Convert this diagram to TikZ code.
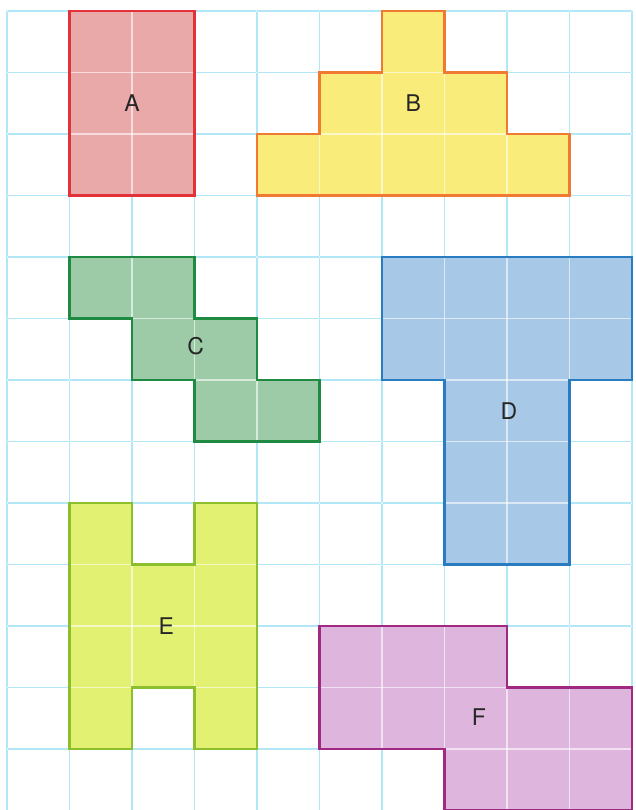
\documentclass[tikz,border=0pt]{standalone}
\usepackage{fontspec}
\setmainfont{TeX Gyre Heros}
\definecolor{gridc}{HTML}{3CC3EC}
\definecolor{Afill}{HTML}{E9A9A8}\definecolor{Aline}{HTML}{E2333A}
\definecolor{Bfill}{HTML}{F9EC7A}\definecolor{Bline}{HTML}{F07A32}
\definecolor{Cfill}{HTML}{9DCBA8}\definecolor{Cline}{HTML}{1F8A42}
\definecolor{Dfill}{HTML}{A7C8E6}\definecolor{Dline}{HTML}{2A7CC0}
\definecolor{Efill}{HTML}{E2F172}\definecolor{Eline}{HTML}{8BBF2E}
\definecolor{Ffill}{HTML}{DDB5DD}\definecolor{Fline}{HTML}{A02A82}
\tikzset{
  outline/.style={line width=2.2pt, line join=miter},
  lbl/.style={font=\fontsize{23}{23}\selectfont, text=black!85},
  gridlines/.style={line width=1.1pt}
}
\newcommand{\mygrid}[1]{%
  \foreach \i in {0,...,10} \draw[gridlines,#1] (\i,0) -- (\i,13.05);
  \foreach \j in {0,...,13} \draw[gridlines,#1] (0,\j) -- (10,\j);
}
\begin{document}
\begin{tikzpicture}
\useasboundingbox (0pt,0pt) rectangle (636pt,-810pt);
\fill[white] (0pt,0pt) rectangle (636pt,-810pt);
\begin{scope}[shift={(7pt,-11pt)}, x=62.5pt, y=-61.5pt]
  % base grid
  \mygrid{gridc}
  % fills
  \fill[Afill] (1,0) rectangle (3,3);
  \fill[Bfill] (6,0)--(7,0)--(7,1)--(8,1)--(8,2)--(9,2)--(9,3)--(4,3)--(4,2)--(5,2)--(5,1)--(6,1)--cycle;
  \fill[Cfill] (1,4)--(3,4)--(3,5)--(4,5)--(4,6)--(5,6)--(5,7)--(3,7)--(3,6)--(2,6)--(2,5)--(1,5)--cycle;
  \fill[Dfill] (6,4)--(10,4)--(10,6)--(9,6)--(9,9)--(7,9)--(7,6)--(6,6)--cycle;
  \fill[Efill] (1,8)--(2,8)--(2,9)--(3,9)--(3,8)--(4,8)--(4,12)--(3,12)--(3,11)--(2,11)--(2,12)--(1,12)--cycle;
  \fill[Ffill] (5,10)--(8,10)--(8,11)--(10,11)--(10,13)--(7,13)--(7,12)--(5,12)--cycle;
  % light grid over fills
  \mygrid{white, opacity=0.6}
  % outlines
  \draw[outline, Aline] (1,0) rectangle (3,3);
  \draw[outline, Bline] (6,0)--(7,0)--(7,1)--(8,1)--(8,2)--(9,2)--(9,3)--(4,3)--(4,2)--(5,2)--(5,1)--(6,1)--cycle;
  \draw[outline, Cline] (1,4)--(3,4)--(3,5)--(4,5)--(4,6)--(5,6)--(5,7)--(3,7)--(3,6)--(2,6)--(2,5)--(1,5)--cycle;
  \draw[outline, Dline] (6,4)--(10,4)--(10,6)--(9,6)--(9,9)--(7,9)--(7,6)--(6,6)--cycle;
  \draw[outline, Eline] (1,8)--(2,8)--(2,9)--(3,9)--(3,8)--(4,8)--(4,12)--(3,12)--(3,11)--(2,11)--(2,12)--(1,12)--cycle;
  \draw[outline, Fline] (5,10)--(8,10)--(8,11)--(10,11)--(10,13)--(7,13)--(7,12)--(5,12)--cycle;
  % labels
  \node[lbl] (la) at (2,1.5) {A};
  \node[lbl] (lb) at (6.5,1.5) {B};
  \node[lbl] (lc) at (3.02,5.45) {C};
  \node[lbl] (ld) at (8.03,6.5) {D};
  \node[lbl] (le) at (2.55,10) {E};
  \node[lbl] (lf) at (7.55,11.48) {F};
\end{scope}
\end{tikzpicture}
\end{document}
